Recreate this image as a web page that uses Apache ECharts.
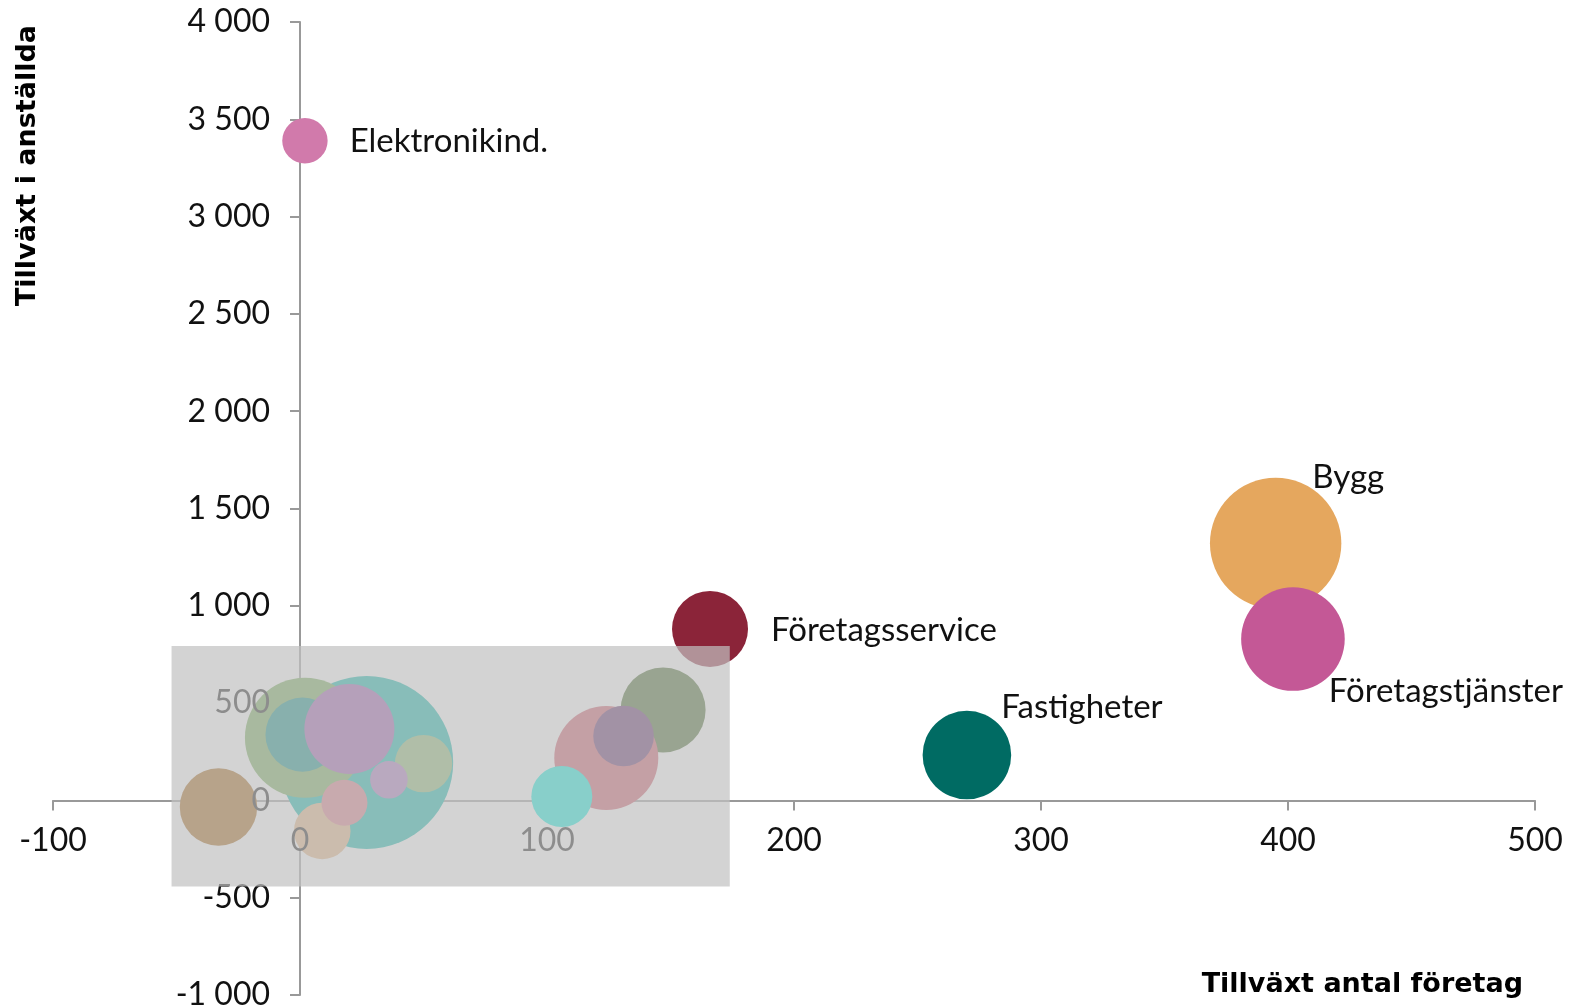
<!DOCTYPE html>
<html>
<head>
<meta charset="utf-8">
<script src="https://cdn.jsdelivr.net/npm/echarts@6/dist/echarts.min.js"></script>
<style>
html, body { margin: 0; padding: 0; background: #fff; }
#chart { width: 1570px; height: 1007px; }
</style>
</head>
<body>
<div id="chart"></div>
<script>
// branscher, ritordning bakifrån och fram
var bransch = ['Bransch A', 'Bransch B', 'Bransch C', 'Bransch D', 'Bransch E', 'Bransch F',
    'Bransch G', 'Bransch H', 'Bransch I', 'Bransch J', 'Bransch K', 'Bransch L', 'Bransch M',
    'Företagsservice', 'Elektronikind.', 'Fastigheter', 'Bygg', 'Företagstjänster'];
var tillvaxtForetag = [27, 2, 1, 20, 50, 36, 9, 18, -33, 147, 124, 106, 131, 166, 2, 270, 395, 402];
var tillvaxtAnstallda = [195, 322, 338, 367, 189, 106, -157, -12, -34, 465, 218, 20, 331, 881, 3390, 233, 1321, 829];
var storlek = [7480, 3600, 1370, 2025, 824, 353, 801, 529, 1498, 1806, 2704, 930, 918, 1444, 515, 1962, 4316, 2683];
var farger = ['#00b4a7', '#6da74e', '#00887e', '#9952aa', '#88b86d', '#a770bb', '#e4b17e', '#da7481',
    '#a05c0a', '#3a5f1f', '#cc5263', '#00f0e0', '#582563', '#8b2439', '#d17aab', '#006b63', '#e5a75e', '#c45896'];
var visaEtikett = ['Företagsservice', 'Elektronikind.', 'Fastigheter', 'Bygg', 'Företagstjänster'];
var xTicks = [-100, 500, 100];
var yTicks = [-1000, 4000, 500];
var fokusOmrade = [[-52, 793], [174, -443]];

var font = 'Lato';
var gridL = 53, gridR = 35, gridT = 22, gridB = 12;
var W = 1570, H = 1007;

function tusental(v) {
    var s = String(Math.abs(v)).replace(/\B(?=(\d{3})+(?!\d))/g, ' ');
    return (v < 0 ? '-' : '') + s;
}

// axlarna korsar varandra i noll
var plotW = W - gridL - gridR, plotH = H - gridT - gridB;
var yAxelOffset = -(0 - xTicks[0]) / (xTicks[1] - xTicks[0]) * plotW;
var xAxelOffset = -(0 - yTicks[0]) / (yTicks[1] - yTicks[0]) * plotH;

var etikettLage = {
    'Elektronikind.': {position: 'right', distance: 22, offset: [0, 1]},
    'Företagsservice': {position: 'right', distance: 23, offset: [0, 1]},
    'Bygg': {position: 'right', distance: 0, offset: [-29, -66]},
    'Företagstjänster': {position: 'right', distance: 0, offset: [-16, 52]},
    'Fastigheter': {position: 'right', distance: 0, offset: [-10, -48]}
};

var data = [];
for (var i = 0; i < bransch.length; i++) {
    var p = {
        name: bransch[i],
        value: [tillvaxtForetag[i], tillvaxtAnstallda[i], storlek[i]],
        itemStyle: {color: farger[i], opacity: 1}
    };
    if (visaEtikett.indexOf(bransch[i]) >= 0) {
        var l = etikettLage[bransch[i]];
        p.label = {
            show: true,
            position: l.position,
            distance: l.distance,
            offset: l.offset,
            formatter: '{b}',
            color: '#111',
            fontSize: 33,
            fontFamily: font
        };
    }
    data.push(p);
}

// axel med linje/streck under bubblorna, etiketter ovanpå
function xAxel(etiketter) {
    return {
        type: 'value',
        position: 'bottom',
        offset: xAxelOffset,
        z: etiketter ? 5 : 0,
        min: xTicks[0], max: xTicks[1], interval: xTicks[2],
        axisLine: {show: !etiketter, onZero: false, lineStyle: {color: '#999', width: 2}},
        axisTick: {show: !etiketter, length: 10, lineStyle: {color: '#999', width: 2}},
        axisLabel: {show: etiketter, color: '#111', fontSize: 32, fontFamily: font, margin: 24,
            showMinLabel: true, showMaxLabel: true},
        splitLine: {show: false}
    };
}
function yAxel(etiketter) {
    return {
        type: 'value',
        position: 'left',
        offset: yAxelOffset,
        z: etiketter ? 5 : 0,
        min: yTicks[0], max: yTicks[1], interval: yTicks[2],
        axisLine: {show: !etiketter, onZero: false, lineStyle: {color: '#999', width: 2}},
        axisTick: {show: !etiketter, length: 10, lineStyle: {color: '#999', width: 2}},
        axisLabel: {show: etiketter, color: '#111', fontSize: 32, fontFamily: font, margin: 30,
            formatter: tusental, showMinLabel: true, showMaxLabel: true},
        splitLine: {show: false}
    };
}

var chart = echarts.init(document.getElementById('chart'));
chart.setOption({
    animation: false,
    grid: {left: gridL, right: gridR, top: gridT, bottom: gridB, containLabel: false, outerBoundsMode: 'none'},
    xAxis: [xAxel(false), xAxel(true)],
    yAxis: [yAxel(false), yAxel(true)],
    graphic: [
        {
            type: 'text', x: 28, y: 25, rotation: Math.PI / 2,
            style: {text: 'Tillväxt i anställda', font: 'bold 27px "DejaVu Sans"', fill: '#000',
                align: 'right', verticalAlign: 'middle'}
        },
        {
            type: 'text', x: 1523, y: 985,
            style: {text: 'Tillväxt antal företag', font: 'bold 27px "DejaVu Sans"', fill: '#000',
                align: 'right', verticalAlign: 'middle'}
        }
    ],
    series: [
        {
            type: 'scatter',
            z: 3,
            xAxisIndex: 0,
            yAxisIndex: 0,
            data: data,
            symbolSize: function (v) { return Math.sqrt(v[2]) * 2; },
            emphasis: {disabled: true}
        },
        {
            type: 'scatter',
            z: 10,
            xAxisIndex: 0,
            yAxisIndex: 0,
            data: [],
            silent: true,
            markArea: {
                silent: true,
                z: 10,
                itemStyle: {color: 'rgb(193,193,193)', opacity: 0.706},
                data: [[{coord: fokusOmrade[0]}, {coord: fokusOmrade[1]}]]
            }
        }
    ]
});
</script>
</body>
</html>
